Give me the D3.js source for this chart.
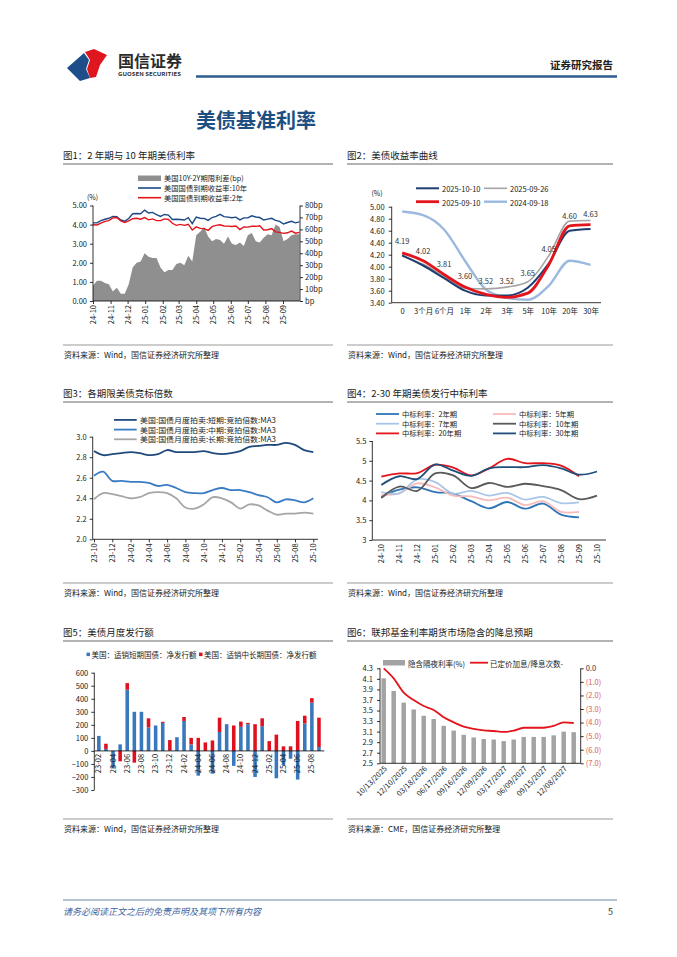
<!DOCTYPE html>
<html><head><meta charset="utf-8">
<script src="https://cdn.jsdelivr.net/npm/d3@7/dist/d3.min.js"></script>
<style>html,body{margin:0;padding:0;background:#fff;}svg{display:block}</style>
</head><body>
<svg id="page" width="677" height="957" xmlns="http://www.w3.org/2000/svg"></svg>
<script>
// ================= DATA =================
// Fig1: weekly points from 2024-10-10
const f1Start = "2024-10-10";
const f1TickLabels = ["24-10","24-11","24-12","25-01","25-02","25-03","25-04","25-05","25-06","25-07","25-08","25-09"];
const f1Spread = [13,17,17,15,14,8,11,6,6,14,28,32,33,40,37,36,36,28,24,26,26,31,32,30,38,33,55,58,62,54,50,52,51,48,54,48,47,49,46,55,57,50,49,53,56,55,64,62,50,52,55,56,56];
const f1Y10 = [4.09,4.09,4.21,4.28,4.33,4.43,4.42,4.24,4.18,4.32,4.57,4.58,4.57,4.76,4.61,4.64,4.52,4.43,4.53,4.50,4.27,4.28,4.27,4.24,4.36,4.05,4.39,4.33,4.32,4.22,4.37,4.43,4.54,4.42,4.39,4.36,4.39,4.25,4.35,4.35,4.46,4.40,4.37,4.24,4.29,4.33,4.22,4.17,4.03,4.11,4.17,4.09,4.14];
const f1Y2 = [3.99,3.98,4.08,4.17,4.21,4.35,4.37,4.20,4.11,4.19,4.31,4.33,4.28,4.37,4.25,4.30,4.21,4.21,4.30,4.27,4.07,3.96,4.01,3.96,4.02,3.72,3.88,3.80,3.79,3.70,3.89,3.96,3.99,3.93,3.92,3.90,3.93,3.74,3.88,3.87,3.91,3.91,3.94,3.72,3.73,3.79,3.62,3.59,3.54,3.57,3.66,3.55,3.59];

// Fig2: yield curves
const f2Tenors = ["0","3个月","6个月","1年","2年","3年","5年","10年","20年","30年"];
const f2Curve20251010 = [4.19,4.02,3.81,3.60,3.52,3.52,3.65,4.05,4.60,4.63];
const f2Curve20250926 = [4.18,4.04,3.84,3.64,3.63,3.66,3.75,4.18,4.76,4.77];
const f2Curve20250910 = [4.23,4.10,3.87,3.66,3.54,3.49,3.56,4.03,4.68,4.70];
const f2Curve20240918 = [4.92,4.86,4.62,4.10,3.62,3.48,3.45,3.68,4.10,4.03];

// Fig3: bid-to-cover MA3
const f3Months = ["23-10","23-11","23-12","24-01","24-02","24-03","24-04","24-05","24-06","24-07","24-08","24-09","24-10","24-11","24-12","25-01","25-02","25-03","25-04","25-05","25-06","25-07","25-08","25-09","25-10"];
const f3Short = [2.86,2.82,2.83,2.84,2.85,2.84,2.82,2.83,2.87,2.85,2.85,2.85,2.86,2.84,2.83,2.84,2.86,2.90,2.91,2.92,2.92,2.94,2.92,2.87,2.85];
const f3Mid = [2.62,2.66,2.57,2.57,2.56,2.56,2.55,2.52,2.53,2.50,2.46,2.45,2.45,2.48,2.50,2.48,2.48,2.46,2.43,2.41,2.36,2.39,2.38,2.36,2.40];
const f3Long = [2.39,2.45,2.44,2.42,2.40,2.41,2.45,2.46,2.45,2.40,2.31,2.30,2.34,2.41,2.40,2.36,2.30,2.34,2.33,2.28,2.24,2.25,2.25,2.26,2.25];

// Fig4: auction high yields
const f4Months = ["24-10","24-11","24-12","25-01","25-02","25-03","25-04","25-05","25-06","25-07","25-08","25-09","25-10"];
const f4Y2 = [4.09,4.27,4.33,4.21,4.17,3.98,3.80,3.96,3.79,3.92,3.64,3.57,null];
const f4Y5 = [4.14,4.18,4.43,4.33,4.12,4.10,4.00,4.07,3.88,3.98,3.71,3.71,null];
const f4Y7 = [4.21,4.18,4.53,4.46,4.17,4.24,4.12,4.19,4.02,4.09,3.93,3.95,null];
const f4Y10 = [4.06,4.35,4.24,4.68,4.63,4.31,4.44,4.34,4.42,4.36,4.26,4.03,4.12];
const f4Y20 = [4.60,4.68,4.69,4.90,4.83,4.63,4.81,5.05,4.94,4.94,4.88,4.61,null];
const f4Y30 = [4.39,4.61,4.54,4.91,4.75,4.62,4.81,4.84,4.84,4.89,4.81,4.65,4.73];

// Fig5: monthly net issuance
const f5Months = ["23-02","23-03","23-04","23-05","23-06","23-07","23-08","23-09","23-10","23-11","23-12","24-01","24-02","24-03","24-04","24-05","24-06","24-07","24-08","24-09","24-10","24-11","24-12","25-01","25-02","25-03","25-04","25-05","25-06","25-07","25-08","25-09"];
const f5Bills = [115,15,-135,50,470,300,300,180,195,215,3,105,230,50,-190,0,-175,145,205,-115,185,205,-200,190,0,-210,-110,-60,-220,210,370,30];
const f5Coupons = [0,40,0,-80,50,-90,0,70,0,8,80,0,30,50,100,65,80,110,0,195,40,10,205,60,75,125,35,35,230,60,35,225];

// Fig6: FF futures implied path
const f6Dates = ["10/13/2025","10/29/2025","12/10/2025","01/28/2026","03/18/2026","04/29/2026","06/17/2026","07/29/2026","09/16/2026","10/28/2026","12/09/2026","01/27/2027","03/17/2027","04/28/2027","06/09/2027","07/28/2027","09/15/2027","10/27/2027","12/08/2027","01/26/2028"];
const f6Rate = [4.11,3.87,3.65,3.52,3.40,3.34,3.21,3.12,3.04,2.99,2.96,2.95,2.92,2.95,3.00,3.00,3.00,3.03,3.10,3.09];
const f6Moves = [0.0,-0.74,-1.80,-2.34,-2.78,-3.07,-3.61,-3.98,-4.30,-4.47,-4.57,-4.62,-4.69,-4.60,-4.38,-4.38,-4.38,-4.25,-3.98,-4.03];

// ================= HELPERS =================
const FONT = '"Noto Sans CJK SC","Noto Sans CJK JP","Noto Sans",sans-serif';
const svg = d3.select("#page").attr("font-family", FONT);
svg.append("rect").attr("width",677).attr("height",957).attr("fill","#fff");

function T(g,x,y,s,o={}){
  const t = g.append("text").attr("x",x).attr("y",y).text(s)
    .attr("font-size",o.size||7.5).attr("fill",o.fill||"#1a1a1a")
    .attr("text-anchor",o.anchor||"start").attr("dominant-baseline","central")
    .attr("font-weight",o.weight||"normal").attr("font-style",o.style||"normal");
  if(o.len) t.attr("textLength",o.len).attr("lengthAdjust","spacingAndGlyphs");
  return t;
}
function L(g,x1,y1,x2,y2,c,w){
  return g.append("line").attr("x1",x1).attr("y1",y1).attr("x2",x2).attr("y2",y2).attr("stroke",c||"#000").attr("stroke-width",w||0.8);
}
function callAxis(g,gen,tx,ty,size){
  const a = g.append("g").attr("transform",`translate(${tx},${ty})`).call(gen);
  a.select(".domain").remove();
  a.attr("font-size",size||7.5).attr("font-family",FONT);
  a.selectAll("line").attr("stroke","#000").attr("stroke-width",0.8);
  a.selectAll("text").attr("fill","#1a1a1a");
  return a;
}
function rotLabels(a){
  a.selectAll("text").attr("transform","rotate(-90)").attr("text-anchor","end")
    .attr("x",-4).attr("y",0).attr("dy","0.35em");
}
function figTitle(x,y,s,x2){
  T(svg,x,y,s,{size:9.5,fill:"#1a1a1a"});
  L(svg,x,y+9,x2,y+9,"#9a9a9a",1.3);
}
function source(x,y,s,x2){
  L(svg,x,y,x2,y,"#9a9a9a",1.1);
  T(svg,x+1,y+9,s,{size:8,fill:"#1a1a1a"});
}

// ================= PAGE CHROME =================
const logo = svg.append("g");
logo.append("path").attr("d","M67,68 L84,53 L89,60 L86,69 L90,78 L80,81 Z").attr("fill","#1d4e89");
logo.append("path").attr("d","M85,52 L94,49 L107,55 L100,65 L96,77 L90,78 L87,69 L90,60 Z").attr("fill","#e0161e");
T(svg,118,60,"国信证券",{size:15.5,weight:"bold",fill:"#2b2b2b",len:64});
T(svg,118,73,"GUOSEN SECURITIES",{size:5.2,weight:"bold",fill:"#333",len:63});
L(svg,196,76.5,617,76.5,"#2d5d8e",2.5);
T(svg,613,64,"证券研究报告",{size:10.5,weight:"bold",anchor:"end",fill:"#222"});
T(svg,196,119,"美债基准利率",{size:20,weight:"bold",fill:"#1d4f82"});

// ================= FIG 1 =================
{
  const g = svg.append("g");
  figTitle(63,155,"图1：2 年期与 10 年期美债利率",333);
  const parse = d3.timeParse("%Y-%m-%d");
  const t0 = parse(f1Start);
  const dates = f1Y10.map((d,i)=>d3.timeDay.offset(t0,7*i));
  const x = d3.scaleTime().domain([t0, d3.timeDay.offset(t0,365)]).range([93,300]);
  const yL = d3.scaleLinear().domain([0,5]).range([301,205.5]);
  const yR = d3.scaleLinear().domain([0,80]).range([301,205.5]);
  const area = d3.area().x((d,i)=>x(dates[i])).y0(yR(0)).y1(d=>yR(d));
  g.append("path").datum(f1Spread).attr("d",area).attr("fill","#8f8f8f");
  const line = yS => d3.line().x((d,i)=>x(dates[i])).y(d=>yS(d));
  g.append("path").datum(f1Y10).attr("d",line(yL)).attr("fill","none").attr("stroke","#1b4a86").attr("stroke-width",1.4);
  g.append("path").datum(f1Y2).attr("d",line(yL)).attr("fill","none").attr("stroke","#e3141c").attr("stroke-width",1.4);
  // axes
  L(g,93,205.5,93,301); L(g,300,205.5,300,301); L(g,93,301,300,301);
  callAxis(g,d3.axisLeft(yL).tickValues([0,1,2,3,4,5]).tickFormat(d3.format(".2f")).tickSize(3).tickPadding(3),93,0);
  callAxis(g,d3.axisRight(yR).tickValues([0,10,20,30,40,50,60,70,80]).tickFormat(d=>d===0?"bp":d+"bp").tickSize(3).tickPadding(2),300,0);
  const tparse = d3.timeParse("%y-%m");
  const tickDates = f1TickLabels.map(s=>d3.timeDay.offset(tparse(s),9));
  const ax = callAxis(g,d3.axisBottom(x).tickValues(tickDates).tickFormat((d,i)=>f1TickLabels[i]).tickSize(3),0,301);
  rotLabels(ax);
  T(g,92.5,197,"(%)",{size:7,anchor:"middle"});
  // legend
  const ly = [178.3,188.0,197.7];
  g.append("rect").attr("x",138).attr("y",ly[0]-2.8).attr("width",23).attr("height",5.5).attr("fill","#8f8f8f");
  T(g,164,ly[0],"美国10Y-2Y期限利差(bp)",{size:7.3});
  L(g,138,ly[1],161,ly[1],"#1b4a86",1.6); T(g,164,ly[1],"美国国债到期收益率:10年",{size:7.3});
  L(g,138,ly[2],161,ly[2],"#e3141c",1.6); T(g,164,ly[2],"美国国债到期收益率:2年",{size:7.3});
  source(63,345,"资料来源：Wind，国信证券经济研究所整理",333);
}

// ================= FIG 2 =================
{
  const g = svg.append("g");
  figTitle(347,155,"图2：美债收益率曲线",613);
  const x = d3.scalePoint().domain(f2Tenors).range([391.7,601]).padding(0.5);
  const y = d3.scaleLinear().domain([3.4,5.0]).range([302.7,206.7]);
  L(g,391.7,206.7,391.7,302.7); L(g,391.7,302.7,601,302.7);
  callAxis(g,d3.axisLeft(y).tickValues(d3.range(3.4,5.01,0.2)).tickFormat(d3.format(".2f")).tickSize(3).tickPadding(4),391.7,0);
  callAxis(g,d3.axisBottom(x).tickSize(0).tickPadding(6),0,302.7);
  T(g,377,193,"(%)",{size:7,anchor:"middle"});
  const line = d3.line().x((d,i)=>x(f2Tenors[i])).y(d=>y(d)).curve(d3.curveMonotoneX);
  const series = [
    {v:f2Curve20240918,c:"#9bb9de",w:2.4},
    {v:f2Curve20250926,c:"#a5a5a5",w:1.6},
    {v:f2Curve20251010,c:"#1f3d70",w:2.0},
    {v:f2Curve20250910,c:"#e3141c",w:2.8}
  ];
  series.forEach(s=>g.append("path").datum(s.v).attr("d",line).attr("fill","none").attr("stroke",s.c).attr("stroke-width",s.w));
  f2Curve20251010.forEach((v,i)=>T(g,x(f2Tenors[i]),y(v)-15,v.toFixed(2),{size:7.5,anchor:"middle",fill:"#333"}));
  // legend
  L(g,416,188.3,439,188.3,"#1f3d70",2.0); T(g,442,188.5,"2025-10-10");
  L(g,484,188.3,507,188.3,"#a5a5a5",1.6); T(g,510,188.5,"2025-09-26");
  L(g,416,201.7,439,201.7,"#e3141c",2.8); T(g,442,202,"2025-09-10");
  L(g,484,201.7,507,201.7,"#9bb9de",2.4); T(g,510,202,"2024-09-18");
  source(347,345,"资料来源：Wind，国信证券经济研究所整理",613);
}

// ================= FIG 3 =================
{
  const g = svg.append("g");
  figTitle(63,393,"图3：各期限美债竞标倍数",333);
  const x = d3.scalePoint().domain(f3Months).range([94,313.3]);
  const y = d3.scaleLinear().domain([2.0,3.0]).range([539.3,436.7]);
  L(g,92.7,436.7,92.7,539.3); L(g,92.7,539.3,318,539.3);
  callAxis(g,d3.axisLeft(y).tickValues([2.0,2.2,2.4,2.6,2.8,3.0]).tickFormat(d3.format(".1f")).tickSize(3).tickPadding(3),92.7,0);
  const ax = callAxis(g,d3.axisBottom(x).tickValues(f3Months.filter((d,i)=>i%2===0)).tickSize(3),0,539.3);
  rotLabels(ax);
  const line = d3.line().x((d,i)=>x(f3Months[i])).y(d=>y(d)).curve(d3.curveCatmullRom);
  [[f3Long,"#a6a6a6"],[f3Mid,"#3a7cc3"],[f3Short,"#1f4a7c"]].forEach(([v,c])=>
    g.append("path").datum(v).attr("d",line).attr("fill","none").attr("stroke",c).attr("stroke-width",1.8));
  const leg = [["美国:国债月度拍卖:短期:竞拍倍数:MA3","#1f4a7c"],["美国:国债月度拍卖:中期:竞拍倍数:MA3","#3a7cc3"],["美国:国债月度拍卖:长期:竞拍倍数:MA3","#a6a6a6"]];
  const ly = [419.9,429.6,439.3];
  leg.forEach((l,i)=>{ L(g,114,ly[i],136.7,ly[i],l[1],1.8); T(g,140,ly[i],l[0],{size:7.3,len:136}); });
  source(63,583,"资料来源：Wind，国信证券经济研究所整理",333);
}

// ================= FIG 4 =================
{
  const g = svg.append("g");
  figTitle(347,393,"图4：2-30 年期美债发行中标利率",613);
  const x = d3.scalePoint().domain(f4Months).range([372.3,606]).padding(0.5);
  const y = d3.scaleLinear().domain([3,5.5]).range([540,441]);
  L(g,372.3,441,372.3,540); L(g,372.3,540,606,540);
  callAxis(g,d3.axisLeft(y).tickValues([3,3.5,4,4.5,5,5.5]).tickFormat(d3.format("")).tickSize(3).tickPadding(3),372.3,0);
  const ax = callAxis(g,d3.axisBottom(x).tickSize(0).tickPadding(0),0,540);
  rotLabels(ax);
  const line = d3.line().defined(d=>d!==null).x((d,i)=>x(f4Months[i])).y(d=>y(d)).curve(d3.curveCatmullRom);
  const ser = [
    {v:f4Y2,c:"#2e75b6",n:"中标利率：2年期"},
    {v:f4Y5,c:"#f6bcbc",n:"中标利率：5年期"},
    {v:f4Y7,c:"#a9c6e8",n:"中标利率：7年期"},
    {v:f4Y10,c:"#5a5a5a",n:"中标利率：10年期"},
    {v:f4Y20,c:"#e3141c",n:"中标利率：20年期"},
    {v:f4Y30,c:"#1f4e79",n:"中标利率：30年期"}
  ];
  ser.forEach(s=>g.append("path").datum(s.v).attr("d",line).attr("fill","none").attr("stroke",s.c).attr("stroke-width",1.8));
  const ly=[414.0,423.7,433.4];
  ser.forEach((s,i)=>{
    const col=i%2, row=Math.floor(i/2);
    const sx = col===0?376:493;
    L(g,sx,ly[row],sx+23,ly[row],s.c,1.8);
    T(g,sx+26,ly[row],s.n,{size:7.3});
  });
  source(347,583,"资料来源：Wind，国信证券经济研究所整理",613);
}

// ================= FIG 5 =================
{
  const g = svg.append("g");
  figTitle(63,632,"图5：美债月度发行额",333);
  const x = d3.scaleBand().domain(f5Months).range([93.5,324.3]).padding(0.5);
  const y = d3.scaleLinear().domain([-300,600]).range([790,672.7]);
  const rows = f5Months.map((m,i)=>({m,bills:f5Bills[i],coupons:f5Coupons[i]}));
  const stack = d3.stack().keys(["bills","coupons"]).offset(d3.stackOffsetDiverging)(rows);
  const colors = {bills:"#3a78bd",coupons:"#e0101e"};
  stack.forEach(layer=>{
    g.append("g").selectAll("rect").data(layer).join("rect")
      .attr("x",d=>x(d.data.m)).attr("width",x.bandwidth())
      .attr("y",d=>y(Math.max(d[0],d[1]))).attr("height",d=>Math.abs(y(d[0])-y(d[1])))
      .attr("fill",colors[layer.key]);
  });
  L(g,94.3,672.7,94.3,790);
  callAxis(g,d3.axisLeft(y).tickValues(d3.range(-300,601,100)).tickSize(3).tickPadding(3),94.3,0);
  L(g,94.3,y(0),324.3,y(0));
  const ax = callAxis(g,d3.axisBottom(x).tickValues(f5Months.filter((d,i)=>i%2===0)).tickSize(0).tickPadding(0),0,y(0));
  rotLabels(ax);
  ax.selectAll("text").attr("x",-3);
  g.append("rect").attr("x",86.5).attr("y",652.6).attr("width",3.5).attr("height",3.5).attr("fill","#3a78bd");
  T(g,91.5,654.5,"美国：适销短期国债：净发行额");
  g.append("rect").attr("x",199).attr("y",652.6).attr("width",3.5).attr("height",3.5).attr("fill","#e0101e");
  T(g,204,654.5,"美国：适销中长期国债：净发行额");
  source(63,819,"资料来源：Wind，国信证券经济研究所整理",333);
}

// ================= FIG 6 =================
{
  const g = svg.append("g");
  figTitle(347,632,"图6：联邦基金利率期货市场隐含的降息预期",613);
  const x = d3.scaleBand().domain(f6Dates).range([378.7,578.7]).paddingInner(0.55).paddingOuter(0.275);
  const yL = d3.scaleLinear().domain([2.5,4.3]).range([763.3,668.3]);
  const yR = d3.scaleLinear().domain([-7,0]).range([763.3,668.3]);
  g.append("g").selectAll("rect").data(f6Rate).join("rect")
    .attr("x",(d,i)=>x(f6Dates[i])).attr("width",x.bandwidth())
    .attr("y",d=>yL(d)).attr("height",d=>yL(2.5)-yL(d)).attr("fill","#a3a3a3");
  const line = d3.line().x((d,i)=>x(f6Dates[i])+x.bandwidth()/2).y(d=>yR(d)).curve(d3.curveMonotoneX);
  g.append("path").datum(f6Moves).attr("d",line).attr("fill","none").attr("stroke","#e3141c").attr("stroke-width",1.8);
  L(g,380,668.3,380,763.3); L(g,580.7,668.3,580.7,763.3); L(g,380,763.3,580.7,763.3);
  callAxis(g,d3.axisLeft(yL).tickValues(d3.range(2.5,4.31,0.2)).tickFormat(d3.format(".1f")).tickSize(3).tickPadding(4),380,0);
  const ra = callAxis(g,d3.axisRight(yR).tickValues(d3.range(-7,0.01,1)).tickFormat(d=>d===0?"0.0":"("+Math.abs(d).toFixed(1)+")").tickSize(3).tickPadding(2),580.7,0);
  ra.selectAll("text").attr("fill",d=>d===0?"#333":"#e05a5a");
  const ax = callAxis(g,d3.axisBottom(x).tickValues(f6Dates.filter((d,i)=>i%2===0)).tickSize(0).tickPadding(0),0,763.3);
  ax.selectAll("text").attr("transform","translate(2,4) rotate(-45)").attr("text-anchor","end").attr("x",0).attr("y",0).attr("dy","0.35em");
  g.append("rect").attr("x",383).attr("y",660).attr("width",22).attr("height",5.5).attr("fill","#a3a3a3");
  T(g,408,663,"隐含隔夜利率(%)");
  L(g,470,662.7,488,662.7,"#e3141c",1.8);
  T(g,490,663,"已定价加息/降息次数-");
  source(347,819,"资料来源：CME，国信证券经济研究所整理",613);
}

// ================= FOOTER =================
L(svg,63,900,617,900,"#6f86a3",1);
T(svg,63,911,"请务必阅读正文之后的免责声明及其项下所有内容",{size:9,style:"italic",fill:"#3d64a0"});
T(svg,613,911,"5",{size:9,anchor:"end",fill:"#333"});
</script>
</body></html>
